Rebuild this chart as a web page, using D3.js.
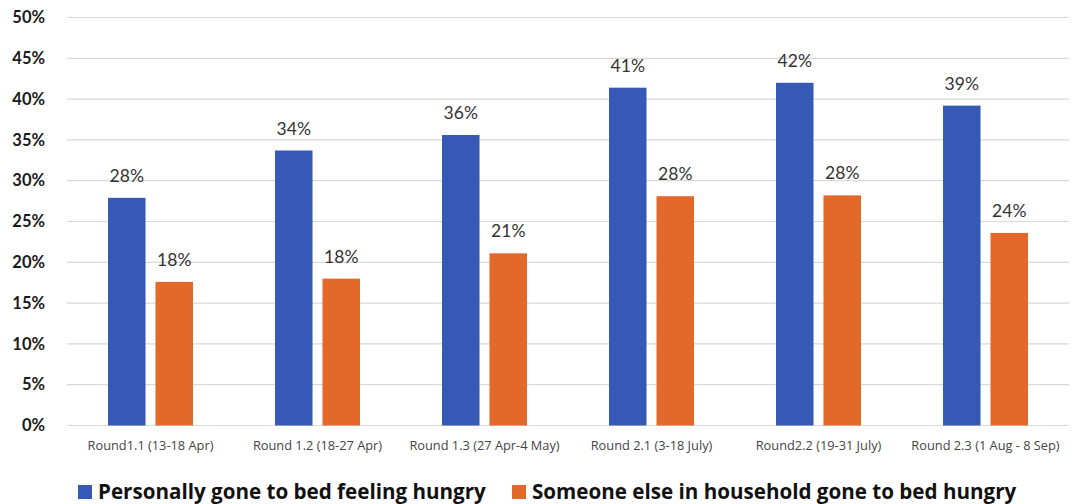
<!DOCTYPE html>
<html>
<head>
<meta charset="utf-8">
<script src="https://cdn.jsdelivr.net/npm/d3@7"></script>
<style>
  html, body { margin: 0; padding: 0; background: #fff; }
  svg { display: block; font-family: Lato, "Open Sans", sans-serif; }
</style>
</head>
<body>
<svg id="chart" width="1074" height="504"></svg>
<script>
// Survey rounds and share of respondents (percent)
const rounds = [
  "Round1.1 (13-18 Apr)",
  "Round 1.2 (18-27 Apr)",
  "Round 1.3 (27 Apr-4 May)",
  "Round 2.1 (3-18 July)",
  "Round2.2 (19-31 July)",
  "Round 2.3 (1 Aug - 8 Sep)"
];
const seriesNames = [
  "Personally gone to bed feeling hungry",
  "Someone else in household gone to bed hungry"
];
const personallyHungry = [27.9, 33.7, 35.6, 41.4, 42.0, 39.2];
const householdHungry  = [17.6, 18.0, 21.1, 28.1, 28.2, 23.6];
const yTicks = [0, 5, 10, 15, 20, 25, 30, 35, 40, 45, 50];
const colors = ["#3659B6", "#E3692A"];

const svg = d3.select("#chart");
const margin = { left: 67, right: 5, top: 17.5, bottom: 78.5 };
const width = 1074, height = 504;

const y = d3.scaleLinear()
  .domain([0, 50])
  .range([height - margin.bottom, margin.top]);

const x0 = d3.scaleBand()
  .domain(rounds)
  .range([margin.left, width - margin.right])
  .paddingInner(0.491)
  .paddingOuter(0.2455);

const x1 = d3.scaleBand()
  .domain(seriesNames)
  .range([0, x0.bandwidth()])
  .paddingInner(0.21)
  .paddingOuter(0);

// Gridlines
svg.append("g")
  .selectAll("line")
  .data(yTicks)
  .join("line")
  .attr("x1", margin.left)
  .attr("x2", width - margin.right)
  .attr("y1", d => y(d))
  .attr("y2", d => y(d))
  .attr("stroke", "#d9d9d9")
  .attr("stroke-width", 1.2);

// Y axis labels
const yAxis = d3.axisLeft(y)
  .tickValues(yTicks)
  .tickFormat(d => d + "%")
  .tickSize(0)
  .tickPadding(22);
const yg = svg.append("g")
  .attr("transform", `translate(${margin.left},0)`)
  .call(yAxis);
yg.select(".domain").remove();
yg.selectAll("text")
  .attr("font-family", "Lato, sans-serif")
  .attr("font-size", 16.5)
  .attr("font-weight", 700)
  .attr("fill", "#1a1a1a");

// Bars
const data = rounds.map((r, i) => ({
  round: r,
  values: [
    { key: seriesNames[0], value: personallyHungry[i], color: colors[0] },
    { key: seriesNames[1], value: householdHungry[i], color: colors[1] }
  ]
}));

const groups = svg.append("g")
  .selectAll("g")
  .data(data)
  .join("g")
  .attr("transform", d => `translate(${x0(d.round)},0)`);

groups.selectAll("rect")
  .data(d => d.values)
  .join("rect")
  .attr("x", d => x1(d.key))
  .attr("width", x1.bandwidth())
  .attr("y", d => y(d.value))
  .attr("height", d => y(0) - y(d.value))
  .attr("fill", d => d.color);

groups.selectAll("text.val")
  .data(d => d.values)
  .join("text")
  .attr("class", "val")
  .attr("x", d => x1(d.key) + x1.bandwidth() / 2)
  .attr("y", d => y(d.value) - 16)
  .attr("text-anchor", "middle")
  .attr("font-size", 17.5)
  .attr("fill", "#333")
  .text(d => Math.round(d.value) + "%");

// X axis category labels
const xAxis = d3.axisBottom(x0).tickSize(0).tickPadding(15);
const xg = svg.append("g")
  .attr("transform", `translate(0,${y(0)})`)
  .call(xAxis);
xg.select(".domain").remove();
xg.selectAll("text")
  .attr("font-family", "'Open Sans', sans-serif")
  .attr("font-size", 12.8)
  .attr("fill", "#444");

// Legend
const legendItems = [
  { name: seriesNames[0], color: colors[0], x: 78 },
  { name: seriesNames[1], color: colors[1], x: 512 }
];
const legend = svg.append("g");
const li = legend.selectAll("g")
  .data(legendItems)
  .join("g")
  .attr("transform", d => `translate(${d.x},485)`);
li.append("rect")
  .attr("width", 14)
  .attr("height", 14)
  .attr("fill", d => d.color);
li.append("text")
  .attr("x", 20)
  .attr("y", 14)
  .attr("font-family", "'Open Sans', sans-serif")
  .attr("font-size", 20.6)
  .attr("font-weight", 700)
  .attr("fill", "#111")
  .text(d => d.name);
</script>
</body>
</html>
